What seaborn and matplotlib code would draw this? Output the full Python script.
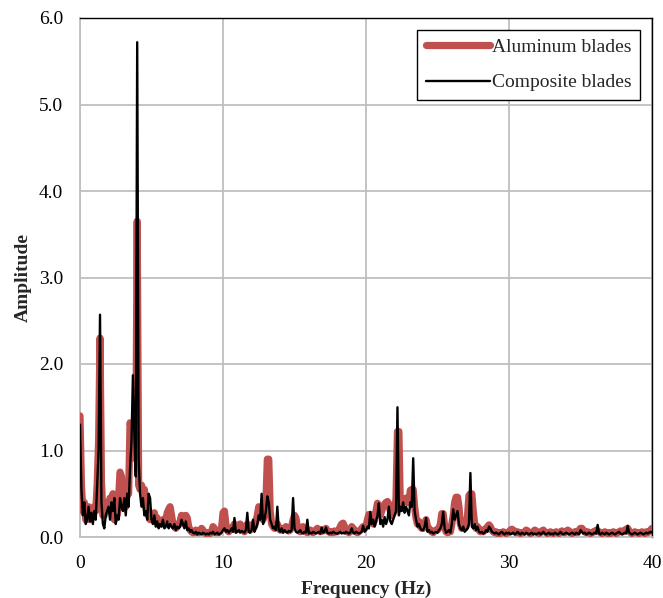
import numpy as np
import pandas as pd
import matplotlib
matplotlib.use("Agg")
import matplotlib.pyplot as plt
import seaborn as sns

# Frequency axis of the spectra (Hz), 0.1 Hz resolution
freq = np.round(np.arange(0, 401) * 0.1, 1)

# Amplitude spectrum, aluminum blades
aluminum = [
    1.40, 0.60, 0.30, 0.40, 0.20, 0.25, 0.35, 0.20, 0.30, 0.25,
    0.35, 0.30, 0.60, 1.10, 2.30, 0.65, 0.25, 0.25, 0.35, 0.40,
    0.30, 0.45, 0.40, 0.50, 0.20, 0.30, 0.25, 0.45, 0.75, 0.70,
    0.40, 0.50, 0.35, 0.55, 0.50, 1.32, 1.25, 1.00, 1.10, 0.90,
    3.65, 0.60, 0.55, 0.60, 0.50, 0.55, 0.35, 0.30, 0.25, 0.20,
    0.25, 0.20, 0.28, 0.18, 0.22, 0.15, 0.18, 0.15, 0.20, 0.18,
    0.20, 0.28, 0.32, 0.35, 0.25, 0.15, 0.12, 0.10, 0.12, 0.15,
    0.18, 0.25, 0.22, 0.15, 0.25, 0.22, 0.12, 0.08, 0.06, 0.05,
    0.05, 0.08, 0.06, 0.05, 0.06, 0.10, 0.08, 0.05, 0.04, 0.05,
    0.05, 0.04, 0.06, 0.12, 0.10, 0.05, 0.06, 0.05, 0.08, 0.10,
    0.28, 0.30, 0.15, 0.08, 0.06, 0.08, 0.10, 0.12, 0.15, 0.08,
    0.10, 0.12, 0.15, 0.12, 0.08, 0.06, 0.10, 0.15, 0.10, 0.08,
    0.10, 0.15, 0.12, 0.18, 0.25, 0.35, 0.30, 0.25, 0.20, 0.25,
    0.40, 0.90, 0.90, 0.30, 0.15, 0.12, 0.10, 0.12, 0.15, 0.10,
    0.08, 0.10, 0.08, 0.10, 0.12, 0.08, 0.07, 0.08, 0.12, 0.20,
    0.25, 0.22, 0.12, 0.08, 0.06, 0.10, 0.12, 0.08, 0.06, 0.05,
    0.06, 0.08, 0.06, 0.05, 0.07, 0.08, 0.10, 0.08, 0.06, 0.08,
    0.07, 0.08, 0.10, 0.07, 0.06, 0.05, 0.06, 0.05, 0.07, 0.06,
    0.06, 0.08, 0.12, 0.15, 0.16, 0.12, 0.08, 0.06, 0.05, 0.06,
    0.12, 0.10, 0.08, 0.06, 0.05, 0.06, 0.08, 0.10, 0.12, 0.10,
    0.12, 0.20, 0.26, 0.26, 0.20, 0.15, 0.20, 0.30, 0.39, 0.30,
    0.25, 0.30, 0.35, 0.38, 0.40, 0.41, 0.38, 0.30, 0.25, 0.28,
    0.30, 0.45, 1.22, 1.22, 0.35, 0.40, 0.40, 0.42, 0.45, 0.40,
    0.40, 0.54, 0.55, 0.55, 0.35, 0.22, 0.15, 0.18, 0.12, 0.10,
    0.10, 0.15, 0.20, 0.12, 0.10, 0.08, 0.06, 0.05, 0.07, 0.08,
    0.08, 0.10, 0.15, 0.27, 0.27, 0.12, 0.06, 0.05, 0.08, 0.06,
    0.15, 0.25, 0.40, 0.46, 0.46, 0.35, 0.15, 0.10, 0.12, 0.10,
    0.12, 0.25, 0.48, 0.50, 0.50, 0.30, 0.15, 0.10, 0.12, 0.08,
    0.06, 0.08, 0.06, 0.08, 0.10, 0.12, 0.14, 0.12, 0.08, 0.06,
    0.05, 0.06, 0.04, 0.05, 0.04, 0.05, 0.06, 0.05, 0.04, 0.05,
    0.06, 0.08, 0.09, 0.08, 0.06, 0.05, 0.06, 0.05, 0.04, 0.05,
    0.05, 0.06, 0.08, 0.07, 0.05, 0.04, 0.05, 0.06, 0.08, 0.07,
    0.05, 0.04, 0.05, 0.07, 0.08, 0.06, 0.05, 0.04, 0.05, 0.06,
    0.05, 0.04, 0.05, 0.06, 0.05, 0.04, 0.06, 0.07, 0.06, 0.05,
    0.06, 0.08, 0.07, 0.05, 0.04, 0.05, 0.06, 0.05, 0.06, 0.08,
    0.10, 0.10, 0.08, 0.06, 0.05, 0.06, 0.05, 0.04, 0.05, 0.06,
    0.06, 0.08, 0.07, 0.06, 0.05, 0.04, 0.05, 0.06, 0.05, 0.04,
    0.05, 0.04, 0.05, 0.06, 0.05, 0.04, 0.05, 0.06, 0.07, 0.06,
    0.06, 0.08, 0.09, 0.10, 0.07, 0.05, 0.04, 0.05, 0.06, 0.05,
    0.05, 0.04, 0.05, 0.06, 0.05, 0.04, 0.06, 0.05, 0.06, 0.08,
    0.10,
]

# Amplitude spectrum, composite blades
composite = [
    1.30, 0.55, 0.25, 0.40, 0.15, 0.20, 0.35, 0.18, 0.28, 0.15,
    0.30, 0.20, 0.60, 1.00, 2.57, 0.40, 0.15, 0.10, 0.25, 0.30,
    0.35, 0.20, 0.40, 0.30, 0.45, 0.15, 0.25, 0.20, 0.45, 0.35,
    0.30, 0.45, 0.25, 0.50, 0.35, 0.80, 1.10, 1.87, 1.20, 0.70,
    5.72, 0.90, 0.50, 0.35, 0.45, 0.25, 0.30, 0.20, 0.50, 0.45,
    0.20, 0.15, 0.25, 0.12, 0.18, 0.10, 0.15, 0.12, 0.20, 0.10,
    0.12, 0.18, 0.10, 0.15, 0.12, 0.10, 0.15, 0.08, 0.12, 0.10,
    0.12, 0.20, 0.15, 0.10, 0.18, 0.08, 0.10, 0.06, 0.08, 0.05,
    0.04, 0.06, 0.03, 0.05, 0.04, 0.03, 0.05, 0.04, 0.03, 0.04,
    0.03, 0.05, 0.04, 0.06, 0.03, 0.04, 0.05, 0.03, 0.04, 0.05,
    0.08, 0.10, 0.06, 0.08, 0.05, 0.07, 0.10, 0.06, 0.22, 0.05,
    0.06, 0.08, 0.05, 0.07, 0.06, 0.05, 0.08, 0.28, 0.06, 0.05,
    0.08, 0.20, 0.06, 0.10, 0.15, 0.25, 0.20, 0.50, 0.15, 0.20,
    0.30, 0.47, 0.40, 0.20, 0.15, 0.10, 0.12, 0.08, 0.35, 0.08,
    0.06, 0.10, 0.05, 0.08, 0.06, 0.05, 0.07, 0.06, 0.08, 0.45,
    0.10, 0.06, 0.05, 0.06, 0.08, 0.05, 0.04, 0.06, 0.05, 0.20,
    0.04, 0.05, 0.04, 0.06, 0.05, 0.04, 0.05, 0.06, 0.04, 0.11,
    0.05, 0.06, 0.11, 0.05, 0.04, 0.05, 0.04, 0.06, 0.05, 0.04,
    0.04, 0.05, 0.06, 0.04, 0.05, 0.04, 0.06, 0.05, 0.04, 0.05,
    0.10, 0.05, 0.04, 0.06, 0.05, 0.04, 0.05, 0.06, 0.13, 0.06,
    0.08, 0.12, 0.10, 0.29, 0.15, 0.20, 0.12, 0.18, 0.25, 0.39,
    0.15, 0.20, 0.12, 0.23, 0.15, 0.20, 0.35, 0.18, 0.15, 0.20,
    0.25, 0.30, 1.50, 0.25, 0.35, 0.30, 0.40, 0.28, 0.35, 0.30,
    0.25, 0.40, 0.35, 0.91, 0.30, 0.20, 0.12, 0.15, 0.10, 0.08,
    0.08, 0.12, 0.22, 0.06, 0.08, 0.05, 0.06, 0.04, 0.05, 0.06,
    0.05, 0.08, 0.10, 0.15, 0.29, 0.10, 0.05, 0.06, 0.08, 0.05,
    0.15, 0.32, 0.20, 0.25, 0.30, 0.15, 0.10, 0.08, 0.12, 0.06,
    0.08, 0.10, 0.15, 0.74, 0.12, 0.10, 0.15, 0.08, 0.12, 0.06,
    0.05, 0.06, 0.04, 0.05, 0.08, 0.06, 0.12, 0.10, 0.06, 0.05,
    0.04, 0.05, 0.04, 0.03, 0.05, 0.06, 0.04, 0.03, 0.05, 0.04,
    0.05, 0.03, 0.04, 0.05, 0.03, 0.04, 0.06, 0.04, 0.03, 0.05,
    0.04, 0.03, 0.05, 0.04, 0.03, 0.04, 0.05, 0.03, 0.04, 0.03,
    0.04, 0.05, 0.03, 0.04, 0.06, 0.04, 0.03, 0.04, 0.05, 0.03,
    0.04, 0.03, 0.05, 0.04, 0.03, 0.04, 0.06, 0.04, 0.03, 0.04,
    0.05, 0.04, 0.03, 0.04, 0.05, 0.04, 0.03, 0.05, 0.04, 0.03,
    0.08, 0.06, 0.04, 0.05, 0.03, 0.04, 0.05, 0.04, 0.03, 0.04,
    0.05, 0.04, 0.14, 0.04, 0.03, 0.05, 0.04, 0.03, 0.05, 0.04,
    0.03, 0.04, 0.05, 0.04, 0.03, 0.04, 0.05, 0.06, 0.04, 0.03,
    0.04, 0.05, 0.04, 0.13, 0.05, 0.04, 0.03, 0.04, 0.05, 0.04,
    0.03, 0.04, 0.05, 0.04, 0.03, 0.04, 0.05, 0.04, 0.05, 0.06,
    0.05,
]

series_names = ["Aluminum blades", "Composite blades"]
x_ticks = [0, 10, 20, 30, 40]
y_ticks = [0.0, 1.0, 2.0, 3.0, 4.0, 5.0, 6.0]

df = pd.concat([
    pd.DataFrame({"Frequency": freq, "Amplitude": aluminum, "Blades": series_names[0]}),
    pd.DataFrame({"Frequency": freq, "Amplitude": composite, "Blades": series_names[1]}),
], ignore_index=True)

sns.set_style("white")
plt.rcParams["font.family"] = ["Liberation Serif", "DejaVu Serif"]

fig = plt.figure(figsize=(6.63, 5.98), dpi=100)
ax = fig.add_axes([80 / 663, 1 - 537 / 598, 572 / 663, 519 / 598])

grid_col = "#bfbfbf"
red = "#c0504d"

sns.lineplot(data=df[df["Blades"] == series_names[0]], x="Frequency", y="Amplitude",
             color=red, linewidth=5.2, ax=ax, label=series_names[0],
             solid_capstyle="round", solid_joinstyle="round", zorder=3)
sns.lineplot(data=df[df["Blades"] == series_names[1]], x="Frequency", y="Amplitude",
             color="black", linewidth=1.7, ax=ax, label=series_names[1], zorder=4)

ax.set_xlim(0, 40)
ax.set_ylim(0, 6.0)
ax.set_xticks(x_ticks)
ax.set_xticklabels([str(t) for t in x_ticks])
ax.set_yticks(y_ticks)
ax.set_yticklabels([f"{t:.1f}" for t in y_ticks])
ax.tick_params(axis="both", length=0, labelsize=14, colors="black")
ax.tick_params(axis="x", pad=13)
ax.tick_params(axis="y", pad=12)

ax.grid(True, color=grid_col, linewidth=1.3)
ax.set_axisbelow(True)
for side in ("left", "bottom"):
    ax.spines[side].set_color(grid_col)
    ax.spines[side].set_linewidth(1.3)
for side in ("top", "right"):
    ax.spines[side].set_color("black")
    ax.spines[side].set_linewidth(1.0)

ax.set_xlabel("Frequency (Hz)", fontsize=14, fontweight="bold", labelpad=6)
ax.set_ylabel("Amplitude", fontsize=14, fontweight="bold", labelpad=5)

leg = ax.legend(loc="upper right", bbox_to_anchor=(0.979, 0.977), borderaxespad=0,
                fontsize=14, frameon=True, fancybox=False, edgecolor="black",
                framealpha=1, handlelength=3.3, handletextpad=0.1, borderpad=0.45,
                labelspacing=0.9)
leg.get_frame().set_linewidth(1.0)
for line in leg.get_lines():
    line.set_solid_capstyle("round")

fig.savefig("out.png", dpi=100)
